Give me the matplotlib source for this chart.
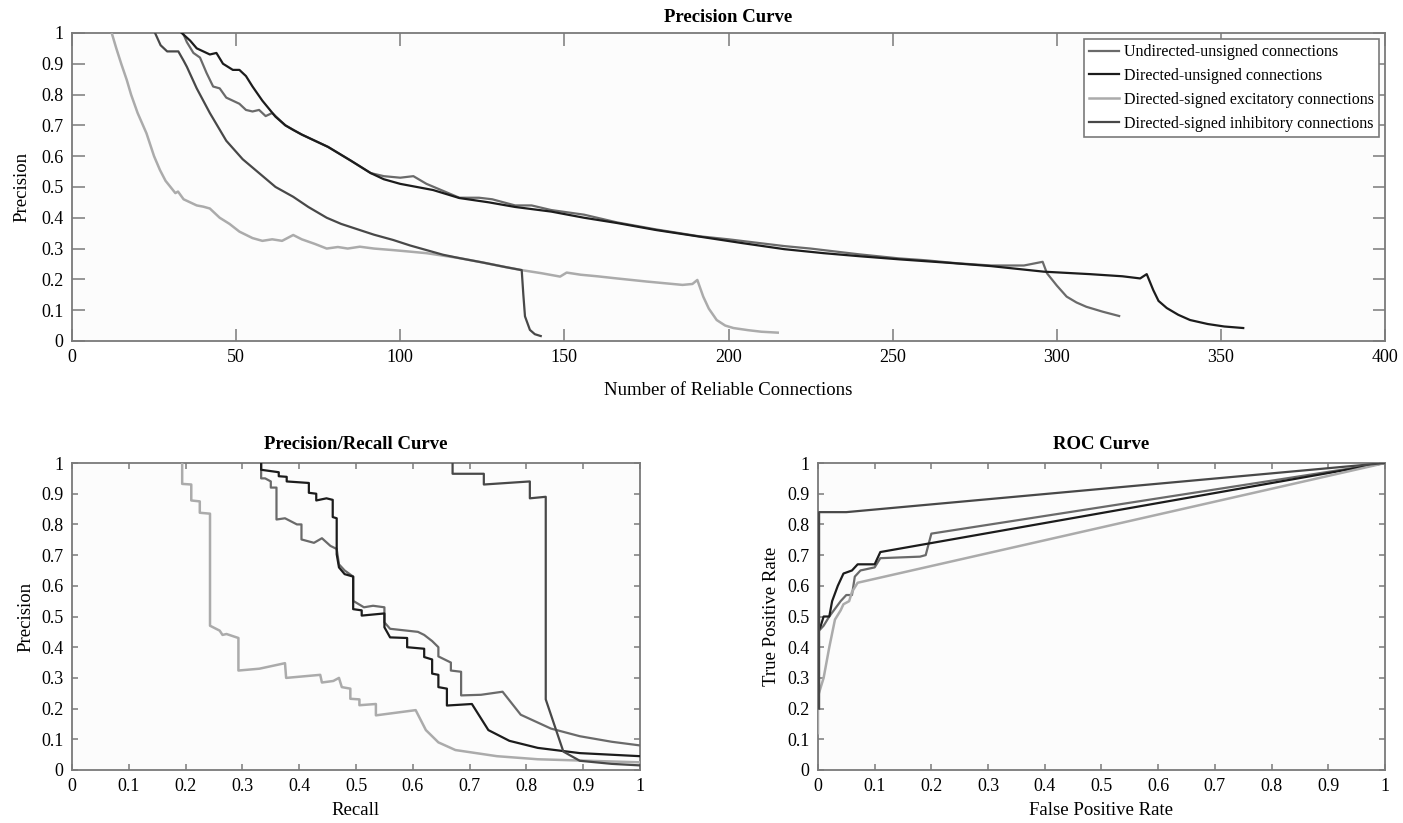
import matplotlib.pyplot as plt
from matplotlib.ticker import FuncFormatter

plt.rcParams['font.family'] = ['Liberation Serif', 'DejaVu Serif']
plt.rcParams['font.size'] = 13

labels = ["Undirected-unsigned connections", "Directed-unsigned connections",
          "Directed-signed excitatory connections", "Directed-signed inhibitory connections"]
colors = ['#6a6a6a', '#1c1c1c', '#ababab', '#484848']

# ---- Precision curve (number of reliable connections vs precision) ----
undir_k = [33.8, 35, 37, 39, 41, 43, 45, 47, 49, 51, 53, 55, 57, 59, 61, 63, 65, 70, 78, 85, 91,
           95, 100, 104, 108, 118, 124, 128, 135, 140, 146, 156, 166, 178, 191, 200, 217, 225,
           240, 252, 260, 270, 280, 290, 295.7, 297, 300, 303, 306, 309, 314, 319]
undir_p = [1.0, 0.97, 0.935, 0.92, 0.87, 0.826, 0.82, 0.79, 0.78, 0.77, 0.75, 0.745, 0.75, 0.73,
           0.74, 0.72, 0.70, 0.67, 0.63, 0.585, 0.545, 0.535, 0.53, 0.535, 0.51, 0.465, 0.465,
           0.46, 0.44, 0.44, 0.425, 0.41, 0.385, 0.362, 0.34, 0.33, 0.308, 0.30, 0.281, 0.268,
           0.262, 0.252, 0.245, 0.245, 0.257, 0.22, 0.18, 0.144, 0.125, 0.111, 0.095, 0.081]

dir_k = [33.4, 36, 38, 40, 42, 44, 46, 49, 51, 53, 55, 58, 62, 65, 67.4, 70, 78, 85, 91, 95, 100,
         105, 110, 118, 127, 135, 146, 156, 166, 178, 191, 204, 217, 229, 240, 252, 268, 280, 296,
         310, 320, 325.4, 327.4, 329.4, 331, 333.5, 337, 340.6, 346, 351, 356.8]
dir_p = [1.0, 0.975, 0.95, 0.94, 0.93, 0.935, 0.90, 0.88, 0.88, 0.86, 0.826, 0.78, 0.728, 0.70,
         0.685, 0.67, 0.63, 0.585, 0.545, 0.525, 0.51, 0.50, 0.49, 0.464, 0.45, 0.435, 0.42, 0.40,
         0.383, 0.36, 0.339, 0.318, 0.298, 0.285, 0.275, 0.265, 0.253, 0.243, 0.225, 0.217, 0.21,
         0.203, 0.217, 0.165, 0.13, 0.107, 0.085, 0.068, 0.055, 0.047, 0.042]

exc_k = [12.1, 13.5, 15, 16.7, 18, 20, 22.7, 25, 26.8, 28.5, 30, 31.5, 32.3, 34, 36, 38, 40, 42,
         45, 48, 51, 55, 58, 61, 64, 67.4, 70, 74, 77.6, 81, 84, 87.7, 92, 97.8, 103, 108, 113,
         118, 125, 132, 137, 143, 148.7, 150.7, 155, 160, 166, 175, 186, 189, 190.5, 192.3, 194,
         196.4, 199, 201.5, 206, 210, 215]
exc_p = [1.0, 0.95, 0.90, 0.847, 0.80, 0.74, 0.674, 0.60, 0.555, 0.52, 0.50, 0.48, 0.485, 0.46,
         0.45, 0.44, 0.436, 0.43, 0.40, 0.38, 0.355, 0.334, 0.325, 0.33, 0.325, 0.344, 0.33, 0.315,
         0.30, 0.305, 0.30, 0.306, 0.30, 0.295, 0.29, 0.285, 0.277, 0.269, 0.255, 0.24, 0.23,
         0.22, 0.209, 0.222, 0.215, 0.21, 0.203, 0.193, 0.182, 0.185, 0.198, 0.144, 0.105, 0.068,
         0.05, 0.042, 0.035, 0.03, 0.027]

inh_k = [25.3, 27, 29, 32.4, 34, 35, 38, 42, 47, 52, 57, 62, 67.4, 72, 77.6, 82, 87.7, 92, 97.8,
         103, 108, 113, 118, 125, 132, 137, 137.5, 138, 139.5, 141, 142.8]
inh_p = [1.0, 0.96, 0.94, 0.94, 0.91, 0.89, 0.82, 0.74, 0.65, 0.59, 0.545, 0.50, 0.468, 0.435,
         0.40, 0.38, 0.36, 0.345, 0.328, 0.31, 0.295, 0.28, 0.269, 0.255, 0.24, 0.23, 0.15, 0.08,
         0.036, 0.022, 0.016]

# ---- Precision/Recall curve ----
undir_r = [0.333, 0.333, 0.34, 0.35, 0.35, 0.36, 0.36, 0.375, 0.396, 0.404, 0.404, 0.426, 0.44,
           0.455, 0.466, 0.47, 0.48, 0.495, 0.495, 0.514, 0.53, 0.55, 0.55, 0.56, 0.609, 0.62,
           0.634, 0.645, 0.645, 0.667, 0.667, 0.685, 0.685, 0.72, 0.758, 0.79, 0.843, 0.894, 0.95, 1.0]
undir_pr = [1.0, 0.95, 0.95, 0.94, 0.92, 0.92, 0.816, 0.82, 0.80, 0.80, 0.751, 0.74, 0.755, 0.73,
            0.72, 0.67, 0.65, 0.63, 0.551, 0.53, 0.535, 0.53, 0.481, 0.46, 0.45, 0.44, 0.42, 0.40,
            0.37, 0.35, 0.324, 0.32, 0.243, 0.245, 0.255, 0.18, 0.135, 0.11, 0.092, 0.08]

dir_r = [0.333, 0.333, 0.364, 0.364, 0.378, 0.378, 0.417, 0.417, 0.43, 0.43, 0.448, 0.459, 0.459,
         0.466, 0.466, 0.47, 0.48, 0.495, 0.495, 0.51, 0.51, 0.55, 0.55, 0.56, 0.59, 0.59, 0.62,
         0.62, 0.634, 0.634, 0.645, 0.645, 0.66, 0.66, 0.704, 0.733, 0.77, 0.82, 0.894, 1.0]
dir_pr = [1.0, 0.978, 0.97, 0.957, 0.955, 0.94, 0.935, 0.903, 0.90, 0.878, 0.885, 0.88, 0.824,
          0.82, 0.703, 0.66, 0.638, 0.63, 0.524, 0.52, 0.503, 0.51, 0.465, 0.432, 0.43, 0.40,
          0.395, 0.368, 0.36, 0.314, 0.31, 0.27, 0.265, 0.21, 0.215, 0.13, 0.095, 0.072, 0.055, 0.045]

exc_r = [0.194, 0.194, 0.21, 0.21, 0.225, 0.225, 0.243, 0.243, 0.26, 0.265, 0.272, 0.293, 0.293,
         0.33, 0.375, 0.377, 0.437, 0.44, 0.46, 0.47, 0.475, 0.49, 0.49, 0.506, 0.506, 0.535,
         0.535, 0.605, 0.623, 0.645, 0.675, 0.748, 0.82, 1.0]
exc_pr = [1.0, 0.932, 0.93, 0.878, 0.875, 0.838, 0.835, 0.47, 0.454, 0.44, 0.443, 0.43, 0.324,
          0.33, 0.348, 0.30, 0.31, 0.285, 0.29, 0.30, 0.27, 0.265, 0.232, 0.23, 0.211, 0.215,
          0.178, 0.195, 0.13, 0.09, 0.065, 0.045, 0.035, 0.025]

inh_r = [0.67, 0.67, 0.725, 0.725, 0.806, 0.806, 0.834, 0.834, 0.865, 0.894, 0.95, 1.0]
inh_pr = [1.0, 0.965, 0.965, 0.93, 0.94, 0.885, 0.89, 0.23, 0.06, 0.03, 0.02, 0.015]

# ---- ROC curve ----
undir_fpr = [0.0, 0.0, 0.005, 0.01, 0.02, 0.04, 0.05, 0.06, 0.065, 0.075, 0.1, 0.11, 0.18, 0.19,
             0.2, 1.0]
undir_tpr = [0.27, 0.45, 0.46, 0.47, 0.50, 0.55, 0.57, 0.57, 0.63, 0.65, 0.66, 0.69, 0.695, 0.70,
             0.77, 1.0]

dir_fpr = [0.0, 0.0, 0.005, 0.01, 0.02, 0.025, 0.035, 0.045, 0.06, 0.07, 0.1, 0.11, 1.0]
dir_tpr = [0.36, 0.45, 0.47, 0.50, 0.50, 0.55, 0.60, 0.64, 0.65, 0.67, 0.67, 0.71, 1.0]

exc_fpr = [0.0, 0.0, 0.01, 0.02, 0.03, 0.04, 0.045, 0.055, 0.06, 0.07, 1.0]
exc_tpr = [0.12, 0.24, 0.30, 0.40, 0.49, 0.52, 0.54, 0.55, 0.58, 0.61, 1.0]

inh_fpr = [0.002, 0.002, 0.045, 0.05, 1.0]
inh_tpr = [0.2, 0.84, 0.84, 0.84, 1.0]


def fmt(v, pos):
    return '%g' % round(v, 2)


def style(ax, ticklen):
    ax.set_facecolor('#fcfcfc')
    for s in ax.spines.values():
        s.set_color('#7a7a7a')
        s.set_linewidth(1.3)
    ax.tick_params(direction='in', top=True, right=True, length=ticklen, width=1.1,
                   color='#7a7a7a', labelsize=13, pad=6)
    ax.yaxis.set_major_formatter(FuncFormatter(fmt))
    ax.xaxis.set_major_formatter(FuncFormatter(fmt))


def draw(ax, xs, ys):
    for x, y, c in zip(xs, ys, colors):
        ax.plot(x, y, color=c, lw=1.8 if c == '#ababab' else 1.6, zorder=3)


fig = plt.figure(figsize=(14.03, 8.23), dpi=100)
fig.patch.set_facecolor('white')

ax1 = fig.add_axes([0.0513, 0.5857, 0.9359, 0.3743])
for x, y, c, lab in zip([undir_k, dir_k, exc_k, inh_k], [undir_p, dir_p, exc_p, inh_p], colors, labels):
    ax1.plot(x, y, color=c, lw=1.8 if c == '#ababab' else 1.6, label=lab, zorder=3)
ax1.set_xlim(0, 400)
ax1.set_ylim(0, 1)
ax1.set_xticks(range(0, 401, 50))
ax1.set_yticks([i / 10 for i in range(11)])
style(ax1, 9)
ax1.set_title("Precision Curve", fontweight='bold', fontsize=13.5, pad=8)
ax1.set_xlabel("Number of Reliable Connections", fontsize=13.5, labelpad=11)
ax1.set_ylabel("Precision", fontsize=13.5, labelpad=8)
leg = ax1.legend(loc='upper right', fontsize=11.5, frameon=True, fancybox=False,
                 edgecolor='#7a7a7a', framealpha=1, borderaxespad=0.4, handlelength=1.9,
                 labelspacing=0.5, borderpad=0.3, handletextpad=0.3)
leg.get_frame().set_linewidth(1.2)

ax2 = fig.add_axes([0.0513, 0.0644, 0.4049, 0.373])
draw(ax2, [undir_r, dir_r, exc_r, inh_r], [undir_pr, dir_pr, exc_pr, inh_pr])
ax2.set_xlim(0, 1)
ax2.set_ylim(0, 1)
ax2.set_xticks([i / 10 for i in range(11)])
ax2.set_yticks([i / 10 for i in range(11)])
style(ax2, 4.5)
ax2.set_title("Precision/Recall Curve", fontweight='bold', fontsize=13.5, pad=10)
ax2.set_xlabel("Recall", fontsize=13.5, labelpad=5)
ax2.set_ylabel("Precision", fontsize=13.5, labelpad=5)

ax3 = fig.add_axes([0.583, 0.0644, 0.4042, 0.373])
draw(ax3, [undir_fpr, dir_fpr, exc_fpr, inh_fpr], [undir_tpr, dir_tpr, exc_tpr, inh_tpr])
ax3.set_xlim(0, 1)
ax3.set_ylim(0, 1)
ax3.set_xticks([i / 10 for i in range(11)])
ax3.set_yticks([i / 10 for i in range(11)])
style(ax3, 4.5)
ax3.set_title("ROC Curve", fontweight='bold', fontsize=13.5, pad=10)
ax3.set_xlabel("False Positive Rate", fontsize=13.5, labelpad=5)
ax3.set_ylabel("True Positive Rate", fontsize=13.5, labelpad=5)

plt.savefig("out.png", dpi=100)
